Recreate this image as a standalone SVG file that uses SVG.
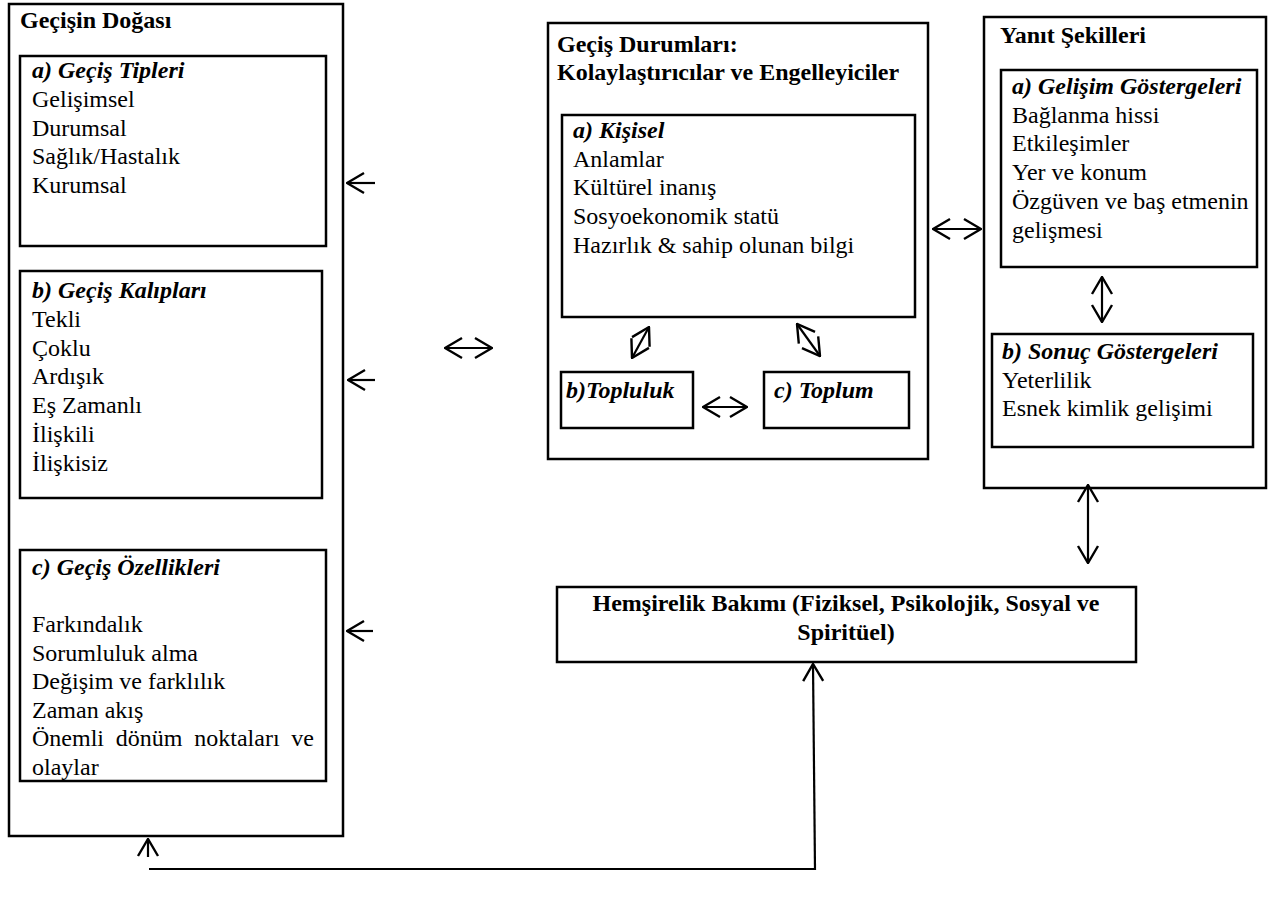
<svg xmlns="http://www.w3.org/2000/svg" width="1274" height="899" viewBox="0 0 1274 899">
<defs>
<style>
.t{font-family:"Liberation Serif","Times New Roman",serif;font-size:24px;fill:#000}
.b{font-weight:bold}
.bi{font-weight:bold;font-style:italic}
.box{fill:none;stroke:#000;stroke-width:2.5}
.ar{fill:none;stroke:#000;stroke-width:2.2}
.both{marker-start:url(#v);marker-end:url(#v)}
.end{marker-end:url(#v)}
.start{marker-start:url(#v)}
</style>
<marker id="v" markerUnits="userSpaceOnUse" viewBox="0 0 20 24" refX="19" refY="12" markerWidth="20" markerHeight="24" orient="auto-start-reverse">
<path d="M2,2 L19,12 L2,22" fill="none" stroke="#000" stroke-width="2.4"/>
</marker>
</defs>
<rect width="1274" height="899" fill="#fff"/>

<g id="gecisin-dogasi">
<rect class="box" x="9" y="4" width="334" height="832"/>
<text class="t b" x="20" y="28">Geçişin Doğası</text>
</g>

<g id="gecis-tipleri">
<rect class="box" x="20" y="56" width="306" height="190"/>
<text class="t bi" x="32" y="78">a) Geçiş Tipleri</text>
<text class="t" x="32" y="107">Gelişimsel</text>
<text class="t" x="32" y="135.7">Durumsal</text>
<text class="t" x="32" y="164.4">Sağlık/Hastalık</text>
<text class="t" x="32" y="193.1">Kurumsal</text>
</g>

<g id="gecis-kaliplari">
<rect class="box" x="20" y="271" width="302" height="227"/>
<text class="t bi" x="32" y="298">b) Geçiş Kalıpları</text>
<text class="t" x="32" y="327">Tekli</text>
<text class="t" x="32" y="355.7">Çoklu</text>
<text class="t" x="32" y="384.4">Ardışık</text>
<text class="t" x="32" y="413.1">Eş Zamanlı</text>
<text class="t" x="32" y="441.8">İlişkili</text>
<text class="t" x="32" y="470.5">İlişkisiz</text>
</g>

<g id="gecis-ozellikleri">
<rect class="box" x="20" y="550" width="306" height="231"/>
<text class="t bi" x="32" y="575">c) Geçiş Özellikleri</text>
<text class="t" x="32" y="632">Farkındalık</text>
<text class="t" x="32" y="660.5">Sorumluluk alma</text>
<text class="t" x="32" y="689">Değişim ve farklılık</text>
<text class="t" x="32" y="717.5">Zaman akış</text>
<text class="t" x="32" y="746">Önemli</text>
<text class="t" x="115.8" y="746">dönüm</text>
<text class="t" x="194.3" y="746">noktaları</text>
<text class="t" x="314" y="746" text-anchor="end">ve</text>
<text class="t" x="32" y="774.5">olaylar</text>
</g>

<g id="gecis-durumlari">
<rect class="box" x="548" y="23" width="380" height="436"/>
<text class="t b" x="557" y="52">Geçiş Durumları:</text>
<text class="t b" x="557" y="80">Kolaylaştırıcılar ve Engelleyiciler</text>
</g>

<g id="kisisel">
<rect class="box" x="562" y="115" width="353" height="202"/>
<text class="t bi" x="573" y="138">a) Kişisel</text>
<text class="t" x="573" y="166.5">Anlamlar</text>
<text class="t" x="573" y="195.2">Kültürel inanış</text>
<text class="t" x="573" y="223.9">Sosyoekonomik statü</text>
<text class="t" x="573" y="252.6">Hazırlık &amp; sahip olunan bilgi</text>
</g>

<g id="topluluk">
<rect class="box" x="561" y="372" width="132" height="56"/>
<text class="t bi" x="566" y="398">b)Topluluk</text>
</g>

<g id="toplum">
<rect class="box" x="764" y="372" width="145" height="56"/>
<text class="t bi" x="774" y="398">c) Toplum</text>
</g>

<g id="yanit-sekilleri">
<rect class="box" x="984" y="17" width="282" height="471"/>
<text class="t b" x="1000" y="43">Yanıt Şekilleri</text>
</g>

<g id="gelisim-gostergeleri">
<rect class="box" x="1001" y="70" width="256" height="197"/>
<text class="t bi" x="1012" y="94">a) Gelişim Göstergeleri</text>
<text class="t" x="1012" y="122.7">Bağlanma hissi</text>
<text class="t" x="1012" y="151.4">Etkileşimler</text>
<text class="t" x="1012" y="180.1">Yer ve konum</text>
<text class="t" x="1012" y="208.8">Özgüven ve baş etmenin</text>
<text class="t" x="1012" y="237.5">gelişmesi</text>
</g>

<g id="sonuc-gostergeleri">
<rect class="box" x="992" y="334" width="261" height="113"/>
<text class="t bi" x="1002" y="359">b) Sonuç Göstergeleri</text>
<text class="t" x="1002" y="387.7">Yeterlilik</text>
<text class="t" x="1002" y="416.4">Esnek kimlik gelişimi</text>
</g>

<g id="hemsirelik-bakimi">
<rect class="box" x="557" y="587" width="579" height="75"/>
<text class="t b" x="846" y="611" text-anchor="middle">Hemşirelik Bakımı (Fiziksel, Psikolojik, Sosyal ve</text>
<text class="t b" x="846" y="640" text-anchor="middle">Spiritüel)</text>
</g>

<g id="connectors">
<line class="ar start" x1="347" y1="183" x2="375" y2="183"/>
<line class="ar start" x1="348" y1="380" x2="375" y2="380"/>
<line class="ar start" x1="347" y1="631" x2="373" y2="631"/>
<line class="ar both" x1="445" y1="348" x2="492" y2="348"/>
<line class="ar both" x1="933" y1="229" x2="981" y2="229"/>
<line class="ar both" x1="703" y1="407" x2="747" y2="407"/>
<line class="ar both" x1="632" y1="358" x2="649" y2="327"/>
<line class="ar both" x1="797" y1="324" x2="820" y2="356"/>
<line class="ar both" x1="1102" y1="277" x2="1102" y2="322"/>
<line class="ar both" x1="1088" y1="485" x2="1088" y2="563"/>
<line class="ar" x1="149" y1="869" x2="816" y2="869"/>
<line class="ar end" x1="815" y1="870" x2="813" y2="664"/>
<line class="ar end" x1="148" y1="857" x2="148" y2="839"/>
</g>
</svg>
